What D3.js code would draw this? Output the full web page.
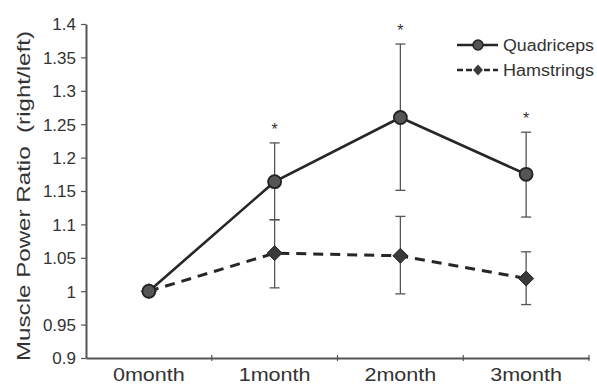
<!DOCTYPE html>
<html><head><meta charset="utf-8">
<script src="https://cdn.jsdelivr.net/npm/d3@7"></script>
<style>body{margin:0;background:#fff}text{font-family:"Liberation Sans",Arial,sans-serif;fill:#2a2a2a}</style>
</head><body>
<svg id="c" width="597" height="384"></svg>
<script>
const categories = ["0month","1month","2month","3month"];
const quadriceps = [1.0, 1.164, 1.26, 1.175];
const quadLow    = [1.0, 1.107, 1.151, 1.111];
const quadHigh   = [1.0, 1.222, 1.370, 1.238];
const hamstrings = [1.0, 1.057, 1.053, 1.019];
const hamLow     = [1.0, 1.005, 0.996, 0.980];
const hamHigh    = [1.0, 1.107, 1.112, 1.059];
const significant = [false, true, true, true];
const yTicks = [0.9,0.95,1,1.05,1.1,1.15,1.2,1.25,1.3,1.35,1.4];

(function(){
const svg = d3.select("#c");
const mLeft = 86, mRight = 589, mTop = 24, mBottom = 358;
const x = d3.scaleBand().domain(categories).range([mLeft, mRight]);
const y = d3.scaleLinear().domain([0.9, 1.4]).range([mBottom, mTop]);
const cx = d => x(d) + x.bandwidth()/2;
const ink = "#262626";

// axes
const ya = svg.append("g").attr("transform", `translate(${mLeft},0)`)
  .call(d3.axisLeft(y).tickValues(yTicks).tickSize(5).tickSizeOuter(0).tickFormat(d => d3.format("")(d)));
ya.select(".domain").attr("stroke", "#555").attr("stroke-width", 2);
ya.selectAll(".tick line").attr("stroke", "#555").attr("stroke-width", 1.2);
ya.selectAll(".tick text").attr("font-size", 17).attr("x", -10).attr("dy", "0.35em").style("fill", "#333");

const xa = svg.append("g").attr("transform", `translate(0,${mBottom})`)
  .call(d3.axisBottom(x).tickSize(0).tickSizeOuter(0));
xa.select(".domain").attr("stroke", "#555").attr("stroke-width", 2);
xa.selectAll(".tick text").attr("font-size", 19).attr("y", 23).attr("dy", 0)
  .attr("textLength", 72).attr("lengthAdjust", "spacingAndGlyphs").style("fill", "#333");
const bounds = categories.slice(1).map(c => x(c)).concat([mRight]);
svg.append("g").selectAll("line").data(bounds).join("line")
  .attr("x1", d => d).attr("x2", d => d).attr("y1", mBottom - 3).attr("y2", mBottom + 3)
  .attr("stroke", "#555").attr("stroke-width", 1.2);

// y label
svg.append("text").attr("transform", `translate(30,${(mTop+mBottom)/2+5}) rotate(-90)`)
  .attr("text-anchor", "middle").attr("font-size", 18).style("fill", "#333")
  .attr("textLength", 330).attr("lengthAdjust", "spacingAndGlyphs")
  .attr("xml:space", "preserve").style("white-space", "pre")
  .text("Muscle Power Ratio  (right/left)");

function errBars(lo, hi) {
  const g = svg.append("g").attr("stroke", "#555").attr("stroke-width", 1.3);
  categories.forEach((c, i) => {
    if (lo[i] === hi[i]) return;
    const X = cx(c);
    g.append("line").attr("x1", X).attr("x2", X).attr("y1", y(lo[i])).attr("y2", y(hi[i]));
    [lo[i], hi[i]].forEach(v => g.append("line").attr("x1", X-5).attr("x2", X+5).attr("y1", y(v)).attr("y2", y(v)));
  });
}
errBars(quadLow, quadHigh);
errBars(hamLow, hamHigh);

const line = d3.line().x((d, i) => cx(categories[i])).y(d => y(d));
svg.append("path").datum(hamstrings).attr("d", line).attr("fill", "none")
  .attr("stroke", ink).attr("stroke-width", 3).attr("stroke-dasharray", "10,7");
svg.append("path").datum(quadriceps).attr("d", line).attr("fill", "none")
  .attr("stroke", ink).attr("stroke-width", 2.6);

const diamondPath = (w, h) => `M0,${-h}L${w},0L0,${h}L${-w},0Z`;
svg.append("g").selectAll("path").data(hamstrings).join("path")
  .attr("d", diamondPath(7.5, 7.5)).attr("transform", (d, i) => `translate(${cx(categories[i])},${y(d)})`)
  .attr("fill", "#3a3a3a").attr("stroke", ink).attr("stroke-width", 1);
svg.append("g").selectAll("circle").data(quadriceps).join("circle")
  .attr("cx", (d, i) => cx(categories[i])).attr("cy", d => y(d)).attr("r", 6.5)
  .attr("fill", "#555").attr("stroke", "#222").attr("stroke-width", 1.8);

svg.append("g").selectAll("text").data(categories.filter((c, i) => significant[i])).join("text")
  .attr("x", c => cx(c)).attr("y", c => y(quadHigh[categories.indexOf(c)]) - 8)
  .attr("text-anchor", "middle").attr("font-size", 16).style("fill", "#333").text("*");

const leg = svg.append("g");
const items = [{name: "Quadriceps", dash: null, sym: "c"}, {name: "Hamstrings", dash: "6,3", sym: "d"}];
items.forEach((it, i) => {
  const Y = 45 + i * 25;
  leg.append("line").attr("x1", 457).attr("x2", 498).attr("y1", Y).attr("y2", Y)
    .attr("stroke", ink).attr("stroke-width", 2.6).attr("stroke-dasharray", it.dash);
  if (it.sym === "c") leg.append("circle").attr("cx", 478).attr("cy", Y).attr("r", 5).attr("fill", "#555").attr("stroke", "#222").attr("stroke-width", 1.5);
  else leg.append("path").attr("d", diamondPath(5, 5.5)).attr("transform", `translate(478,${Y})`).attr("fill", "#3a3a3a");
  leg.append("text").attr("x", 503).attr("y", Y).attr("dy", "0.36em").attr("font-size", 16)
    .attr("textLength", 91).attr("lengthAdjust", "spacingAndGlyphs").style("fill", "#333").text(it.name);
});
})();
</script>
</body></html>
